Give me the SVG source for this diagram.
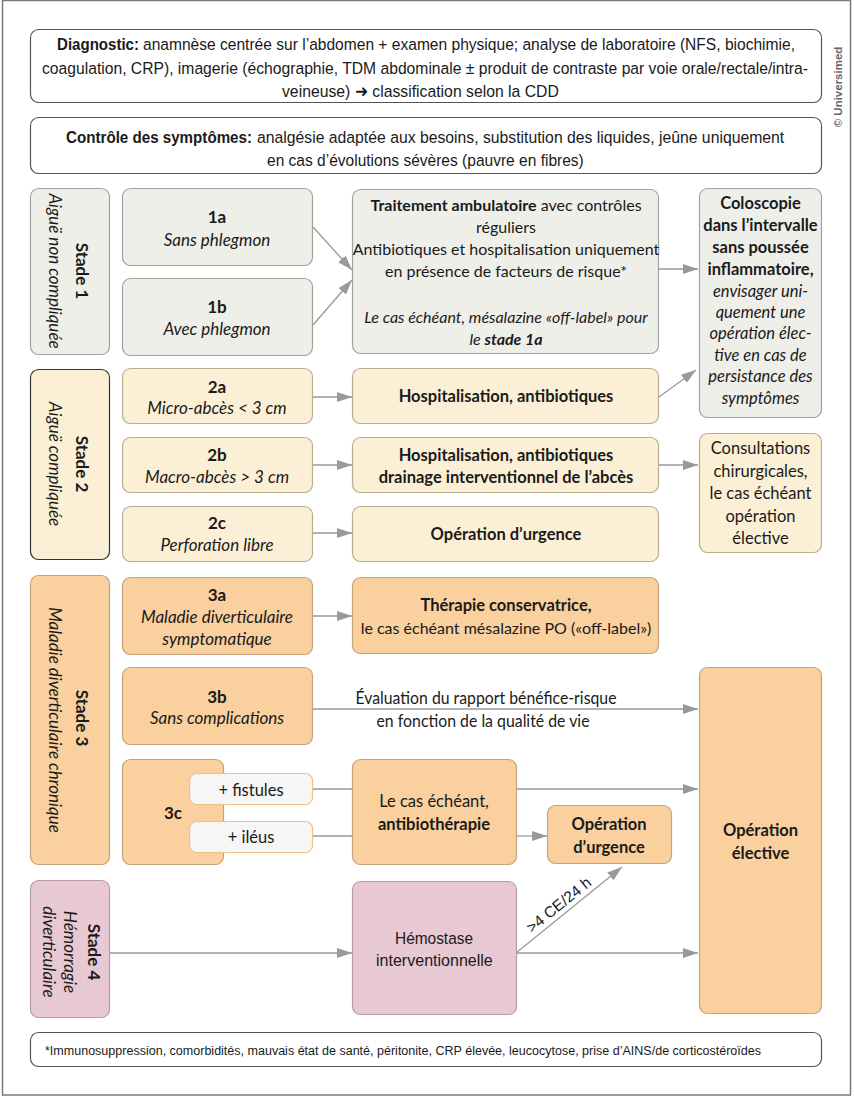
<svg xmlns="http://www.w3.org/2000/svg" width="854" height="1097" viewBox="0 0 854 1097">
<defs>
<style>
text{font-family:Lato,"Open Sans","Liberation Sans",sans-serif;fill:#1a1a1a;font-size:16.5px}
.c{text-anchor:middle}
.b{font-weight:bold}
.i{font-style:italic}
.lb{font-size:17px}
.tr{font-size:16px}
.cond{font-family:"Liberation Sans",Arial,sans-serif;font-size:17px}
.box{stroke-width:1.2}
.w{fill:#fff;stroke:#555;stroke-width:1.2}
.g{fill:#efefea;stroke:#a3a39e}
.y{fill:#fbf0d6;stroke:#b9ad92}
.o{fill:#f9d09e;stroke:#c7a37c}
.p{fill:#e8c8d3;stroke:#b79ca6}
.pill{fill:#f6f6f6;stroke:#f0c088}
.ln{stroke:#999;stroke-width:1.3;fill:none}
.ar{stroke:#999;stroke-width:1.3;fill:none;marker-end:url(#ah)}
</style>
<marker id="ah" markerUnits="userSpaceOnUse" markerWidth="15" markerHeight="10" refX="15" refY="5" orient="auto">
<path d="M0,0 L15,5 L0,10 z" fill="#999"/>
</marker>
</defs>
<rect x="2.5" y="0.5" width="848" height="1094.5" fill="#fff" stroke="#7a7a7a" stroke-width="1.5"/>
<text class="b" transform="translate(838,87) rotate(-90)" style="font-family:'Liberation Sans',sans-serif;font-size:11.5px;fill:#666;text-anchor:middle" y="4">© Universimed</text>

<g id="diagnostic">
<rect class="w" x="30.5" y="29.5" width="791" height="73" rx="8"/>
<text class="cond b" transform="translate(57,50) scale(0.8,1)" textLength="102.5" lengthAdjust="spacingAndGlyphs">Diagnostic:</text>
<text class="cond" transform="translate(143,50) scale(0.8,1)" textLength="815" lengthAdjust="spacingAndGlyphs">anamnèse centrée sur l’abdomen + examen physique; analyse de laboratoire (NFS, biochimie,</text>
<text class="cond" transform="translate(42,74) scale(0.8,1)" textLength="957.5" lengthAdjust="spacingAndGlyphs">coagulation, CRP), imagerie (échographie, TDM abdominale ± produit de contraste par voie orale/rectale/intra-</text>
<text class="cond" transform="translate(282,97) scale(0.8,1)" textLength="346" lengthAdjust="spacingAndGlyphs">veineuse) ➜ classification selon la CDD</text>
</g>
<g id="symptomes">
<rect class="w" x="30.5" y="117.5" width="791" height="56" rx="8"/>
<text class="cond b" transform="translate(66,143) scale(0.8,1)" textLength="232.5" lengthAdjust="spacingAndGlyphs">Contrôle des symptômes:</text>
<text class="cond" transform="translate(257,143) scale(0.8,1)" textLength="659" lengthAdjust="spacingAndGlyphs">analgésie adaptée aux besoins, substitution des liquides, jeûne uniquement</text>
<text class="cond" transform="translate(267,166) scale(0.8,1)" textLength="396" lengthAdjust="spacingAndGlyphs">en cas d’évolutions sévères (pauvre en fibres)</text>
</g>

<g id="connectors">
<line class="ar" x1="313" y1="227" x2="352" y2="270"/>
<line class="ar" x1="313" y1="325" x2="352" y2="280"/>
<line class="ar" x1="659" y1="269" x2="698" y2="269"/>
<line class="ar" x1="659" y1="397" x2="696" y2="370"/>
<line class="ar" x1="313" y1="397" x2="352" y2="397"/>
<line class="ar" x1="313" y1="465" x2="352" y2="465"/>
<line class="ar" x1="313" y1="533" x2="352" y2="533"/>
<line class="ar" x1="659" y1="465" x2="698" y2="465"/>
<line class="ar" x1="313" y1="616" x2="352" y2="616"/>
<line class="ar" x1="313" y1="709" x2="698" y2="709"/>
<line class="ln" x1="313" y1="789" x2="352" y2="789"/>
<line class="ar" x1="516" y1="789" x2="698" y2="789"/>
<line class="ln" x1="313" y1="836" x2="352" y2="836"/>
<line class="ar" x1="516" y1="836" x2="547" y2="836"/>
<line class="ar" x1="109" y1="953" x2="352" y2="953"/>
<line class="ar" x1="516" y1="953" x2="698" y2="953"/>
<line class="ar" x1="516" y1="953" x2="622" y2="867"/>
<text transform="translate(559,905) rotate(-39) scale(0.8,1)" class="c cond" style="font-size:15.5px" y="5" textLength="97.5" lengthAdjust="spacingAndGlyphs">&gt;4 CE/24 h</text>
<text class="c" x="486" y="704" textLength="261" lengthAdjust="spacingAndGlyphs">Évaluation du rapport bénéfice-risque</text>
<text class="c" x="483" y="727" textLength="213" lengthAdjust="spacingAndGlyphs">en fonction de la qualité de vie</text>
</g>

<g id="stade1">
<rect class="box g" x="30.5" y="188.5" width="79" height="166" rx="8"/>
<text class="c b lb" transform="translate(82,271) rotate(90)" y="6">Stade 1</text>
<text class="c i lb" transform="translate(55,271) rotate(90)" y="6">Aiguë non compliquée</text>
</g>
<g id="n1a">
<rect class="box g" x="122.5" y="188.5" width="190" height="77" rx="8"/>
<text class="c b lb" x="217" y="223">1a</text>
<text class="c i lb" x="217" y="246">Sans phlegmon</text>
</g>
<g id="n1b">
<rect class="box g" x="122.5" y="278.5" width="190" height="77" rx="8"/>
<text class="c b lb" x="217" y="313">1b</text>
<text class="c i lb" x="217" y="335">Avec phlegmon</text>
</g>
<g id="traitement">
<rect class="box g" x="352.5" y="189.5" width="306" height="164" rx="8"/>
<text class="c tr" x="506" y="211"><tspan class="b">Traitement ambulatoire</tspan> avec contrôles</text>
<text class="c tr" x="506" y="233">réguliers</text>
<text class="c tr" x="506" y="255">Antibiotiques et hospitalisation uniquement</text>
<text class="c tr" x="506" y="277">en présence de facteurs de risque*</text>
<text class="c i tr" x="506" y="323">Le cas échéant, mésalazine «off-label» pour</text>
<text class="c i tr" x="506" y="345">le <tspan class="b">stade 1a</tspan></text>
</g>
<g id="coloscopie">
<rect class="box g" x="699.5" y="188.5" width="122" height="229" rx="8"/>
<text class="c b" x="760.5" y="209">Coloscopie</text>
<text class="c b" x="760.5" y="231">dans l’intervalle</text>
<text class="c b" x="760.5" y="253">sans poussée</text>
<text class="c b" x="760.5" y="275">inflammatoire,</text>
<text class="c i" x="760.5" y="297">envisager uni-</text>
<text class="c i" x="760.5" y="318">quement une</text>
<text class="c i" x="760.5" y="339">opération élec-</text>
<text class="c i" x="760.5" y="361">tive en cas de</text>
<text class="c i" x="760.5" y="382">persistance des</text>
<text class="c i" x="760.5" y="404">symptômes</text>
</g>

<g id="stade2">
<rect class="box y" x="30.5" y="369.5" width="79" height="190" rx="8" style="stroke:#333"/>
<text class="c b lb" transform="translate(82,464) rotate(90)" y="6">Stade 2</text>
<text class="c i lb" transform="translate(55,464) rotate(90)" y="6">Aiguë compliquée</text>
</g>
<g id="n2a">
<rect class="box y" x="122.5" y="368.5" width="190" height="55" rx="8"/>
<text class="c b lb" x="217" y="393">2a</text>
<text class="c i lb" x="217" y="414">Micro-abcès &lt; 3 cm</text>
</g>
<g id="n2b">
<rect class="box y" x="122.5" y="437.5" width="190" height="55" rx="8"/>
<text class="c b lb" x="217" y="461">2b</text>
<text class="c i lb" x="217" y="483">Macro-abcès &gt; 3 cm</text>
</g>
<g id="n2c">
<rect class="box y" x="122.5" y="506.5" width="190" height="55" rx="8"/>
<text class="c b lb" x="217" y="529">2c</text>
<text class="c i lb" x="217" y="551">Perforation libre</text>
</g>
<g id="hosp2a">
<rect class="box y" x="352.5" y="368.5" width="306" height="55" rx="8"/>
<text class="c b" x="506" y="402">Hospitalisation, antibiotiques</text>
</g>
<g id="hosp2b">
<rect class="box y" x="352.5" y="437.5" width="306" height="55" rx="8"/>
<text class="c b" x="506" y="461">Hospitalisation, antibiotiques</text>
<text class="c b" x="506" y="483">drainage interventionnel de l’abcès</text>
</g>
<g id="urgence2c">
<rect class="box y" x="352.5" y="506.5" width="306" height="55" rx="8"/>
<text class="c b" x="506" y="540">Opération d’urgence</text>
</g>
<g id="consultations">
<rect class="box y" x="699.5" y="433.5" width="122" height="119" rx="8"/>
<text class="c" x="760.5" y="454">Consultations</text>
<text class="c" x="760.5" y="477">chirurgicales,</text>
<text class="c" x="760.5" y="499">le cas échéant</text>
<text class="c" x="760.5" y="522">opération</text>
<text class="c" x="760.5" y="544">élective</text>
</g>

<g id="stade3">
<rect class="box o" x="30.5" y="575.5" width="79" height="289" rx="8"/>
<text class="c b lb" transform="translate(82,718) rotate(90)" y="6">Stade 3</text>
<text class="c i lb" transform="translate(55,720) rotate(90)" y="6">Maladie diverticulaire chronique</text>
</g>
<g id="n3a">
<rect class="box o" x="122.5" y="577.5" width="190" height="77" rx="8"/>
<text class="c b lb" x="217" y="601">3a</text>
<text class="c i lb" x="217" y="623">Maladie diverticulaire</text>
<text class="c i lb" x="217" y="645">symptomatique</text>
</g>
<g id="therapie">
<rect class="box o" x="352.5" y="577.5" width="306" height="76" rx="8"/>
<text class="c b" x="506" y="611">Thérapie conservatrice,</text>
<text class="c tr" x="506" y="634">le cas échéant mésalazine PO («off-label»)</text>
</g>
<g id="n3b">
<rect class="box o" x="122.5" y="667.5" width="190" height="77" rx="8"/>
<text class="c b lb" x="217" y="703">3b</text>
<text class="c i lb" x="217" y="724">Sans complications</text>
</g>
<g id="n3c">
<rect class="box o" x="122.5" y="759.5" width="101" height="105" rx="8"/>
<text class="c b lb" x="173" y="819">3c</text>
</g>
<g id="fistules">
<rect class="box pill" x="189.5" y="773.5" width="123" height="31" rx="7"/>
<text class="c" x="251" y="796">+ fistules</text>
</g>
<g id="ileus">
<rect class="box pill" x="189.5" y="821.5" width="123" height="31" rx="7"/>
<text class="c" x="251" y="843">+ iléus</text>
</g>
<g id="antibiotherapie">
<rect class="box o" x="352.5" y="759.5" width="164" height="105" rx="8"/>
<text class="c" x="434" y="807">Le cas échéant,</text>
<text class="c b" x="434" y="830">antibiothérapie</text>
</g>
<g id="urgence3c">
<rect class="box o" x="547.5" y="805.5" width="124" height="58" rx="8"/>
<text class="c b" x="609" y="830">Opération</text>
<text class="c b" x="609" y="853">d’urgence</text>
</g>
<g id="elective">
<rect class="box o" x="699.5" y="667.5" width="122" height="346" rx="8"/>
<text class="c b" x="760.5" y="836">Opération</text>
<text class="c b" x="760.5" y="859">élective</text>
</g>

<g id="stade4">
<rect class="box p" x="30.5" y="880.5" width="79" height="137" rx="8"/>
<text class="c b lb" transform="translate(94,952) rotate(90)" y="6">Stade 4</text>
<text class="c i lb" transform="translate(70,952) rotate(90)" y="6">Hémorragie</text>
<text class="c i lb" transform="translate(49,952) rotate(90)" y="6">diverticulaire</text>
</g>
<g id="hemostase">
<rect class="box p" x="352.5" y="881.5" width="164" height="133" rx="8"/>
<text class="cond" transform="translate(395,944) scale(0.8,1)" textLength="97.5" lengthAdjust="spacingAndGlyphs">Hémostase</text>
<text class="cond" transform="translate(376,966) scale(0.8,1)" textLength="146" lengthAdjust="spacingAndGlyphs">interventionnelle</text>
</g>

<g id="footnote">
<rect class="w" x="30.5" y="1032.5" width="791" height="34" rx="8"/>
<text class="cond" transform="translate(45,1055) scale(0.8,1)" style="font-size:13.5px" textLength="895" lengthAdjust="spacingAndGlyphs">*Immunosuppression, comorbidités, mauvais état de santé, péritonite, CRP élevée, leucocytose, prise d’AINS/de corticostéroïdes</text>
</g>
</svg>
